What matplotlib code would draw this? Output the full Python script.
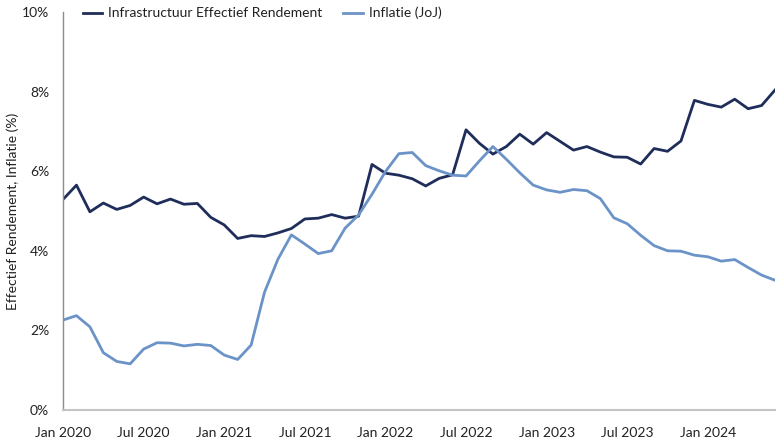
import matplotlib
matplotlib.use("Agg")
from matplotlib import pyplot as plt
import numpy as np

plt.rcParams['font.family'] = ['Lato', 'DejaVu Sans']

# monthly data Jan 2020 .. Jun 2024
rendement = [5.29, 5.65, 4.98, 5.20, 5.04, 5.14, 5.35, 5.18, 5.30, 5.17, 5.19, 4.84,
             4.65, 4.31, 4.38, 4.36, 4.45, 4.56, 4.80, 4.82, 4.91, 4.82, 4.87, 6.17,
             5.95, 5.90, 5.81, 5.63, 5.82, 5.91, 7.04, 6.70, 6.43, 6.62, 6.93, 6.68,
             6.97, 6.75, 6.53, 6.62, 6.48, 6.36, 6.35, 6.18, 6.57, 6.50, 6.76, 7.78,
             7.68, 7.61, 7.81, 7.57, 7.65, 8.04]
inflatie = [2.26, 2.37, 2.09, 1.44, 1.22, 1.16, 1.53, 1.69, 1.68, 1.61, 1.65, 1.62,
            1.38, 1.27, 1.63, 2.96, 3.79, 4.40, 4.17, 3.93, 4.00, 4.57, 4.90, 5.42,
            5.99, 6.44, 6.47, 6.14, 6.01, 5.90, 5.88, 6.26, 6.62, 6.30, 5.96, 5.65,
            5.53, 5.47, 5.54, 5.51, 5.31, 4.83, 4.68, 4.39, 4.13, 4.00, 3.99, 3.89,
            3.85, 3.74, 3.78, 3.58, 3.39, 3.26]
tick_labels = ['Jan 2020', 'Jul 2020', 'Jan 2021', 'Jul 2021', 'Jan 2022',
               'Jul 2022', 'Jan 2023', 'Jul 2023', 'Jan 2024']

months = np.arange(len(rendement))

fig = plt.figure(figsize=(7.8, 4.4), dpi=100)
ax = fig.add_axes([0.0808, 0.0682, 0.9128, 0.9045])

ax.plot(months, rendement, color='#1f2d5a', linewidth=2, label='Infrastructuur Effectief Rendement')
ax.plot(months, inflatie, color='#6b93c8', linewidth=2, label='Inflatie (JoJ)')

ax.set_xlim(0, len(months) - 1)
ax.set_ylim(0, 10)
ax.set_xticks(np.arange(0, len(months), 6))
ax.set_xticklabels(tick_labels)
ax.set_yticks(np.arange(0, 11, 2))
ax.set_yticklabels([f'{v}%' for v in range(0, 11, 2)])
ax.tick_params(axis='both', length=0, labelsize=10, colors='#222222')
ax.tick_params(axis='y', pad=10)
ax.tick_params(axis='x', pad=12)
ax.set_ylabel('Effectief Rendement, Inflatie (%)', fontsize=10, color='#222222', labelpad=2)

for s in ['top', 'right']:
    ax.spines[s].set_visible(False)
ax.spines['left'].set_color('#8c8c8c')
ax.spines['left'].set_linewidth(1)
ax.spines['bottom'].set_color('#c4c4c4')
ax.spines['bottom'].set_linewidth(1.5)

# legend sits on top of the plot area, no frame
ax.legend(loc='center left', bbox_to_anchor=(0.1064, 0.970), bbox_transform=fig.transFigure,
          ncol=2, frameon=False, fontsize=10, handlelength=1.4, columnspacing=1.5,
          handletextpad=0.43, labelcolor='#222222', borderaxespad=0, borderpad=0)

fig.savefig('out.png', dpi=100)
